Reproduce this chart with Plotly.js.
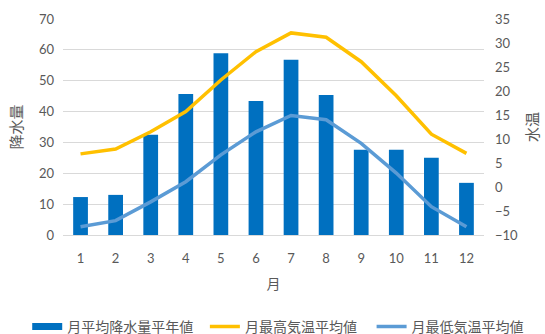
<!DOCTYPE html>
<html>
<head>
<meta charset="utf-8">
<script src="https://cdn.plot.ly/plotly-3.0.1.min.js"></script>
<style>
  html, body { margin: 0; padding: 0; background: #fff; }
  #chart { width: 545px; height: 334px; }
</style>
</head>
<body>
<div id="chart"></div>
<script>
// Months
const months = [1, 2, 3, 4, 5, 6, 7, 8, 9, 10, 11, 12];
// 月平均降水量平年値 (mm)
const precipitation = [12.3, 13.0, 32.5, 45.7, 58.9, 43.4, 56.8, 45.4, 27.6, 27.6, 25.0, 16.9];
// 月最高気温平均値 (°C)
const maxTemp = [6.9, 7.9, 11.5, 15.7, 22.3, 28.2, 32.1, 31.2, 26.1, 19.0, 11.0, 7.0];
// 月最低気温平均値 (°C)
const minTemp = [-8.3, -7.0, -3.1, 1.1, 6.7, 11.5, 14.9, 14.0, 9.1, 2.9, -4.1, -8.3];

const seriesNames = ['月平均降水量平年値', '月最高気温平均値', '月最低気温平均値'];
const fontFamily = "Lato, 'Noto Sans CJK JP', sans-serif";
const textColor = '#595959';
const barColor = '#0070C0';

const traces = [
  {
    type: 'bar',
    x: months,
    y: precipitation,
    name: seriesNames[0],
    legendgroup: 'precip',
    showlegend: false,
    marker: { color: barColor },
    yaxis: 'y'
  },
  // legend key for the bars, drawn as a flat wide swatch
  {
    type: 'scatter',
    mode: 'lines',
    x: [null],
    y: [null],
    name: seriesNames[0],
    legendgroup: 'precip',
    legend: 'legend',
    line: { color: barColor, width: 7 },
    hoverinfo: 'skip',
    yaxis: 'y'
  },
  {
    type: 'scatter',
    mode: 'lines',
    x: months,
    y: maxTemp,
    name: seriesNames[1],
    legend: 'legend2',
    line: { color: '#FFC000', width: 3.5 },
    yaxis: 'y2'
  },
  {
    type: 'scatter',
    mode: 'lines',
    x: months,
    y: minTemp,
    name: seriesNames[2],
    legend: 'legend3',
    line: { color: '#5B9BD5', width: 3.5 },
    yaxis: 'y2'
  }
];

// one legend box per entry so the entries spread across the bottom row
function legendAt(x) {
  return {
    orientation: 'h',
    x: x,
    xanchor: 'left',
    y: -0.425,
    yanchor: 'middle',
    font: { size: 14, color: textColor },
    itemwidth: 30,
    bgcolor: 'rgba(0,0,0,0)'
  };
}

const layout = {
  width: 545,
  height: 334,
  margin: { l: 63, r: 61, t: 19, b: 99, autoexpand: false },
  paper_bgcolor: '#ffffff',
  plot_bgcolor: '#ffffff',
  font: { family: fontFamily, color: textColor, size: 13 },
  bargap: 0.58,
  showlegend: true,
  legend: legendAt(-0.085),
  legend2: legendAt(0.337),
  legend3: legendAt(0.733),
  xaxis: {
    type: 'linear',
    range: [0.5, 12.5],
    tickvals: months,
    ticktext: months.map(String),
    showgrid: false,
    zeroline: false,
    showline: true,
    linecolor: '#D9D9D9',
    linewidth: 1,
    ticks: '',
    ticklabelstandoff: 11,
    tickfont: { size: 13, color: textColor },
    title: { text: '月', font: { size: 14, color: textColor }, standoff: 14 }
  },
  yaxis: {
    range: [0, 70],
    dtick: 10,
    showgrid: true,
    gridcolor: '#D9D9D9',
    gridwidth: 1,
    zeroline: false,
    showline: false,
    ticks: '',
    ticklabelstandoff: 8,
    tickfont: { size: 13, color: textColor },
    title: { text: '降水量', font: { size: 15, color: textColor }, standoff: 12 }
  },
  yaxis2: {
    overlaying: 'y',
    side: 'right',
    range: [-10, 35],
    dtick: 5,
    showgrid: false,
    zeroline: false,
    showline: false,
    ticks: '',
    ticklabelstandoff: 10,
    tickfont: { size: 13, color: textColor },
    title: { text: '水温', font: { size: 15, color: textColor }, standoff: 10 }
  }
};

Plotly.newPlot('chart', traces, layout, { displayModeBar: false, staticPlot: true });
</script>
</body>
</html>
